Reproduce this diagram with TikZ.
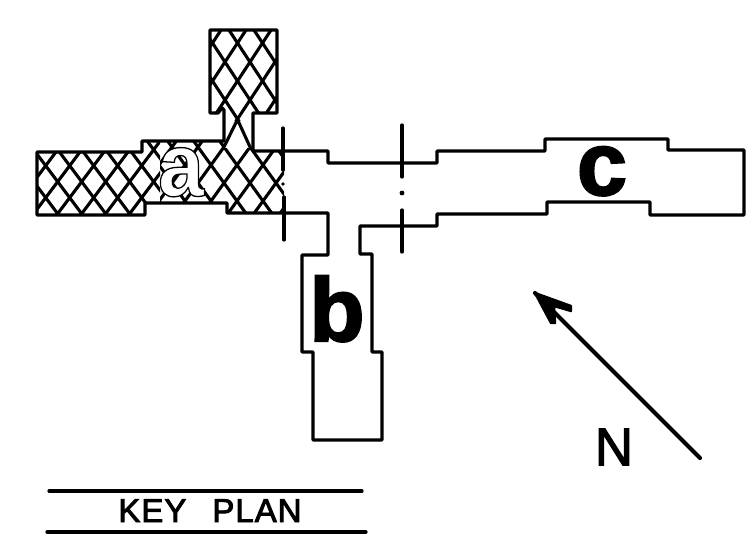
\documentclass[tikz,border=0pt]{standalone}
\usepackage{fontspec}
\setmainfont{Liberation Sans}
\newfontfamily\keyfont[LetterSpace=3]{Liberation Sans}
\usetikzlibrary{calc}
\tikzset{
  plan/.style={line width=3.3pt,line join=round,line cap=round,draw=black},
  hatchline/.style={line width=3.1pt,draw=black},
  tick/.style={line width=3.2pt,line cap=round,draw=black},
  rule/.style={line width=3.2pt,line cap=round,draw=black},
  letter/.style={anchor=base,inner sep=0pt,font=\fontsize{90}{90}\selectfont\bfseries},
}
\newcommand{\hatchclip}{(210,30) -- (277,30) -- (277,113) -- (253,113) -- (253,151) -- (284,151) -- (284,213) -- (227,213) -- (227,203) -- (145,203) -- (145,215) -- (37,215) -- (37,152) -- (142,152) -- (142,141) -- (224,141) -- (224,110) -- (222,108) -- (218,113) -- (210,113) -- cycle}
% centre x, centre y, half width, half height of one diamond
\newcommand{\lattice}[4]{%
  \foreach \k in {-24,...,24}{%
    \draw[hatchline] ({#1+2*\k*#3-12*#3},{#2-12*#4}) -- ({#1+2*\k*#3+12*#3},{#2+12*#4});
    \draw[hatchline] ({#1+2*\k*#3+12*#3},{#2-12*#4}) -- ({#1+2*\k*#3-12*#3},{#2+12*#4});
  }}
\newcommand{\stroked}[2]{\special{pdf:code q 2 Tr #1 w 0 G 0 g}#2\special{pdf:code Q}}
\begin{document}
\begin{tikzpicture}[x=1pt,y=-1pt]
\useasboundingbox (0,0) rectangle (748,544);
% hatching
\begin{scope}
  \clip \hatchclip;
  \begin{scope}
    \clip (30,125) rectangle (160,225);
    \lattice{81.7}{181.7}{12}{16}
  \end{scope}
  \begin{scope}
    \clip (160,141) -- (224,141) -- (224,148) -- (253,148) -- (253,141) -- (290,141) -- (290,225) -- (160,225) -- cycle;
    \lattice{237}{165}{13}{18}
  \end{scope}
  \begin{scope}
    \clip (205,25) rectangle (285,120);
    \lattice{225}{62}{12.5}{19}
  \end{scope}
  \draw[hatchline,line cap=round] (223.5,148) -- (237.5,119.5) -- (250.5,148);
\end{scope}
% building outline
\draw[plan] (210,30) -- (277,30) -- (277,113) -- (253,113) -- (253,151) -- (328,151) -- (328,163) -- (437,163) -- (437,151) -- (545,151) -- (545,139) -- (668,139) -- (668,150) -- (744,150) -- (744,215) -- (650,215) -- (650,202) -- (547,202) -- (547,214) -- (437,214) -- (437,226) -- (360,226) -- (360,254) -- (372,254) -- (372,352) -- (382,352) -- (382,440) -- (313,440) -- (313,352) -- (302,352) -- (302,255) -- (328,255) -- (328,213) -- (227,213) -- (227,203) -- (145,203) -- (145,215) -- (37,215) -- (37,152) -- (142,152) -- (142,141) -- (224,141) -- (224,110) -- (222,108) -- (218,113) -- (210,113) -- cycle;
% section ticks
\coordinate (t1a) at (283,128); \coordinate (t1b) at (283,170);
\coordinate (t1c) at (284,197); \coordinate (t1d) at (284,240);
\coordinate (t2a) at (402,125); \coordinate (t2b) at (402,177);
\coordinate (t2c) at (402,210); \coordinate (t2d) at (402,252);
\draw[tick] (t1a) -- (t1b);
\draw[tick] (t1c) -- (t1d);
\draw[tick] (t2a) -- (t2b);
\draw[tick] (t2c) -- (t2d);
\fill (283,184) circle (1.8);
\fill (402,193) circle (2.4);
% letters
\node[letter,text=white,xscale=0.92,transform shape] (a) at (181,196) {\special{pdf:code q 2 Tr 1.3 w 0 G 1 g}a\special{pdf:code Q}};
\node[letter] (b) at (337,341) {\stroked{2.2}{b}};
\node[letter] (c) at (602,195) {\stroked{2}{c}};
% north arrow
\coordinate (tail) at (700,458);
\coordinate (tip) at (535,293);
\draw[line width=4.2pt,line cap=round] (tail) -- (tip);
\fill[line join=round,draw=black,line width=2.4pt] (tip) -- (571,306) -- (571,311) -- (554,306) -- (555,323) -- (551,323) -- cycle;
\node[inner sep=0pt,font=\fontsize{53}{53}\selectfont] (n) at (614,447) {\stroked{1.2}{N}};
% key plan
\coordinate (r1a) at (49,491); \coordinate (r1b) at (362,491);
\coordinate (r2a) at (47,532); \coordinate (r2b) at (366,532);
\draw[rule] (r1a) -- (r1b);
\draw[rule] (r2a) -- (r2b);
\node[inner sep=0pt,anchor=base,font=\fontsize{33}{33}\selectfont\keyfont] (key) at (210,522) {\stroked{0.9}{KEY\hspace{26pt}PLAN}};
\end{tikzpicture}
\end{document}
